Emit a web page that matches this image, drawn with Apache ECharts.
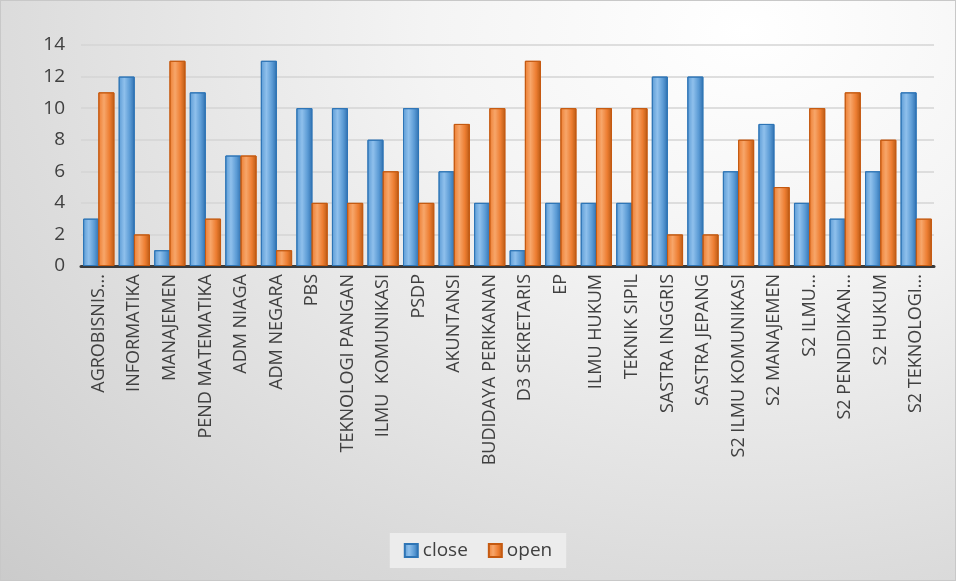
<!DOCTYPE html>
<html><head><meta charset="utf-8">
<script src="https://cdn.jsdelivr.net/npm/echarts@6/dist/echarts.min.js"></script>
<style>
html,body{margin:0;padding:0;}
#c{width:956px;height:581px;box-sizing:border-box;border:1px solid #c8c8c8;
background:radial-gradient(ellipse at 78% 5%, #ffffff 0%, #f4f4f4 30%, #dcdcdc 70%, #cbcbcb 100%);}
</style></head>
<body><div id="c"></div>
<script>
const categories = ["AGROBISNIS...","INFORMATIKA","MANAJEMEN","PEND MATEMATIKA","ADM NIAGA","ADM NEGARA","PBS","TEKNOLOGI PANGAN","ILMU  KOMUNIKASI","PSDP","AKUNTANSI","BUDIDAYA PERIKANAN","D3 SEKRETARIS","EP","ILMU HUKUM","TEKNIK SIPIL","SASTRA INGGRIS","SASTRA JEPANG","S2 ILMU KOMUNIKASI","S2 MANAJEMEN","S2 ILMU...","S2 PENDIDIKAN...","S2 HUKUM","S2 TEKNOLOGI..."];
const closeValues = [3,12,1,11,7,13,10,10,8,10,6,4,1,4,4,4,12,12,6,9,4,3,6,11];
const openValues  = [11,2,13,3,7,1,4,4,6,4,9,10,13,10,10,10,2,2,8,5,10,11,8,3];
const yTicks = [0,2,4,6,8,10,12,14];

function grad(light, mid, dark){
  return new echarts.graphic.LinearGradient(0,0,1,0,[
    {offset:0,color:mid},{offset:0.35,color:light},{offset:0.7,color:mid},{offset:1,color:dark}]);
}
const FF = 'Open Sans, Noto Sans, sans-serif';
const chart = echarts.init(document.getElementById('c'), null, {renderer:'canvas'});
chart.setOption({
  backgroundColor:'transparent',
  textStyle:{fontFamily:FF},
  grid:{left:80,right:21,top:44,bottom:314,containLabel:false},
  legend:{
    data:['close','open'], bottom:12, left:'center',
    icon:'rect', itemWidth:13, itemHeight:13, itemGap:20,
    backgroundColor:'#ececec', padding:[8,14],
    textStyle:{color:'#404040',fontSize:19,fontFamily:FF}
  },
  xAxis:{
    type:'category', data:categories,
    axisLine:{lineStyle:{color:'#3a3a3a',width:3}},
    axisTick:{show:false},
    axisLabel:{rotate:90, interval:0, color:'#404040', fontSize:18, margin:8, fontFamily:FF}
  },
  yAxis:{
    type:'value', min:yTicks[0], max:yTicks[yTicks.length-1], interval:2,
    axisLine:{show:false}, axisTick:{show:false},
    axisLabel:{color:'#404040', fontSize:19, margin:16},
    splitLine:{lineStyle:{color:'#d4d4d4',width:1.5}}
  },
  series:[
    {name:'close', type:'bar', data:closeValues, barGap:'-5%', barCategoryGap:'12%',
     itemStyle:{color:grad('#8fc0ec','#5b9bd5','#2f6fae'), borderColor:'#2e75b6', borderWidth:1}},
    {name:'open', type:'bar', data:openValues,
     itemStyle:{color:grad('#f7a66a','#ed7d31','#b85a15'), borderColor:'#c55a11', borderWidth:1}}
  ]
});
</script></body></html>
